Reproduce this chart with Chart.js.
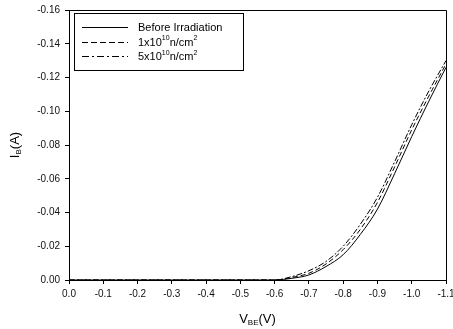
<!DOCTYPE html>
<html>
<head>
<meta charset="utf-8">
<script src="https://cdn.jsdelivr.net/npm/chart.js@4/dist/chart.umd.min.js"></script>
<style>
  body { margin: 0; background: #fff; }
  #wrap { width: 453px; height: 329px; }
</style>
</head>
<body>
<div id="wrap"><canvas id="ibChart" width="453" height="329"></canvas></div>
<script>
// V_BE in volts, I_B in amps
var vbe = [0, -0.1, -0.2, -0.3, -0.4, -0.5, -0.55, -0.6, -0.65, -0.7, -0.75, -0.8, -0.85, -0.9, -0.95, -1.0, -1.05, -1.1];
var beforeIrr = [0, 0, 0, 0, 0, 0, 0, 0, -0.001, -0.003, -0.008, -0.015, -0.027, -0.042, -0.063, -0.085, -0.106, -0.126];
var fluence1e10 = [0, 0, 0, 0, 0, 0, 0, 0, -0.0015, -0.004, -0.0095, -0.018, -0.030, -0.046, -0.067, -0.089, -0.109, -0.128];
var fluence5e10 = [0, 0, 0, 0, 0, 0, 0, 0, -0.002, -0.0055, -0.011, -0.020, -0.033, -0.049, -0.070, -0.092, -0.112, -0.130];

var xTicks = [0, -0.1, -0.2, -0.3, -0.4, -0.5, -0.6, -0.7, -0.8, -0.9, -1.0, -1.1];
var yTicks = [0, -0.02, -0.04, -0.06, -0.08, -0.10, -0.12, -0.14, -0.16];

var FONT = "'Liberation Sans', Arial, sans-serif";

function points(ys) {
    return vbe.map(function(v, i) { return {x: v, y: ys[i]}; });
}

// legend entries: label parts, [text, superscript]
var legendItems = [
    {dash: [], parts: [["Before Irradiation", false]]},
    {dash: [6, 3], parts: [["1x10", false], ["10", true], ["n/cm", false], ["2", true]]},
    {dash: [7, 3, 2, 3], parts: [["5x10", false], ["10", true], ["n/cm", false], ["2", true]]}
];

// draw text made of normal / raised / lowered pieces
function drawParts(ctx, x, y, parts, size) {
    parts.forEach(function(p) {
        var small = p[1] !== false;
        ctx.font = (small ? Math.round(size * 0.65) : size) + "px " + FONT;
        var dy = p[1] === true ? -size * 0.4 : (p[1] === "sub" ? size * 0.3 : 0);
        ctx.fillText(p[0], x, y + dy);
        x += ctx.measureText(p[0]).width;
    });
    return x;
}

function partsWidth(ctx, parts, size) {
    var w = 0;
    parts.forEach(function(p) {
        ctx.font = (p[1] !== false ? Math.round(size * 0.65) : size) + "px " + FONT;
        w += ctx.measureText(p[0]).width;
    });
    return w;
}

var decorations = {
    id: 'decorations',
    afterDraw: function(chart) {
        var ctx = chart.ctx;
        var a = chart.chartArea;
        ctx.save();

        // top and right frame lines
        ctx.strokeStyle = '#000';
        ctx.lineWidth = 1;
        ctx.beginPath();
        ctx.moveTo(a.left, a.top + 0.5);
        ctx.lineTo(a.right + 0.5, a.top + 0.5);
        ctx.lineTo(a.right + 0.5, a.bottom);
        ctx.stroke();

        // legend box
        ctx.strokeRect(74.5, 13.5, 169, 57);
        ctx.fillStyle = '#000';
        ctx.textBaseline = 'middle';
        legendItems.forEach(function(item, i) {
            var y = 27 + i * 14.5;
            ctx.setLineDash(item.dash);
            ctx.beginPath();
            ctx.moveTo(82, Math.round(y) + 0.5);
            ctx.lineTo(128, Math.round(y) + 0.5);
            ctx.stroke();
            ctx.setLineDash([]);
            drawParts(ctx, 138, y + 1, item.parts, 11);
        });

        // x axis title V_BE(V)
        var xParts = [["V", false], ["BE", "sub"], ["(V)", false]];
        var cx = (a.left + a.right) / 2;
        var w = partsWidth(ctx, xParts, 13);
        drawParts(ctx, cx - w / 2, 319, xParts, 13);

        // y axis title I_B(A), rotated
        var yParts = [["I", false], ["B", "sub"], ["(A)", false]];
        ctx.translate(15, (a.top + a.bottom) / 2);
        ctx.rotate(-Math.PI / 2);
        w = partsWidth(ctx, yParts, 13);
        drawParts(ctx, -w / 2, 0, yParts, 13);

        ctx.restore();
    }
};

function fmt(digits) {
    return function(v) {
        if (Math.abs(v) < 1e-9) v = 0;
        return v.toFixed(digits);
    };
}

var ctx = document.getElementById('ibChart');
new Chart(ctx, {
    type: 'scatter',
    data: {
        datasets: [
            {label: 'Before Irradiation', data: points(beforeIrr), borderDash: []},
            {label: '1x10^10 n/cm^2', data: points(fluence1e10), borderDash: [5, 3]},
            {label: '5x10^10 n/cm^2', data: points(fluence5e10), borderDash: [6, 2, 2, 2]}
        ].map(function(d) {
            d.showLine = true;
            d.borderColor = '#000';
            d.borderWidth = 1;
            d.pointRadius = 0;
            d.pointHoverRadius = 0;
            d.cubicInterpolationMode = 'monotone';
            return d;
        })
    },
    options: {
        responsive: false,
        animation: false,
        events: [],
        layout: {padding: {left: 0, right: 7, top: 10, bottom: 0}},
        plugins: {
            legend: {display: false},
            tooltip: {enabled: false}
        },
        scales: {
            x: {
                type: 'linear',
                reverse: true,
                min: -1.1,
                max: 0,
                afterBuildTicks: function(s) { s.ticks = xTicks.map(function(v) { return {value: v}; }); },
                afterFit: function(s) { s.height = 49; s.paddingLeft = 0; s.paddingRight = 0; },
                grid: {drawOnChartArea: false, drawTicks: true, tickLength: 4, color: '#000'},
                border: {display: true, color: '#000', width: 1},
                ticks: {
                    callback: fmt(1),
                    autoSkip: false,
                    maxRotation: 0,
                    padding: 4,
                    color: '#111',
                    font: {family: FONT, size: 10}
                }
            },
            y: {
                type: 'linear',
                reverse: true,
                min: -0.16,
                max: 0,
                afterBuildTicks: function(s) { s.ticks = yTicks.map(function(v) { return {value: v}; }); },
                afterFit: function(s) { s.width = 69; s.paddingTop = 0; s.paddingBottom = 0; },
                grid: {drawOnChartArea: false, drawTicks: true, tickLength: 4, color: '#000'},
                border: {display: true, color: '#000', width: 1},
                ticks: {
                    callback: fmt(2),
                    autoSkip: false,
                    padding: 5,
                    color: '#111',
                    font: {family: FONT, size: 10}
                }
            }
        }
    },
    plugins: [decorations]
});
</script>
</body>
</html>
